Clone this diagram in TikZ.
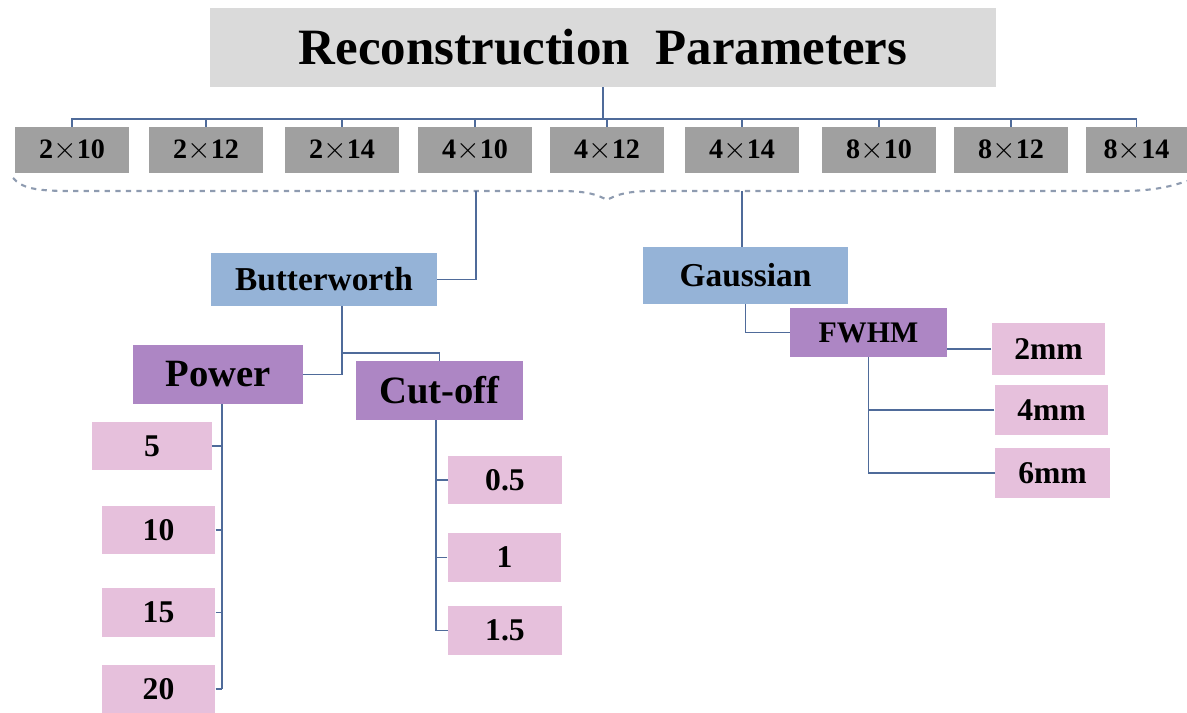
\documentclass[tikz,border=0pt]{standalone}
\usepackage{fontspec}
\setmainfont{Liberation Serif}
\usepackage{tikz}

\definecolor{titlegrey}{HTML}{DADADA}
\definecolor{sizegrey}{HTML}{A0A0A0}
\definecolor{filterblue}{HTML}{95B3D7}
\definecolor{parampurple}{HTML}{AD86C4}
\definecolor{valuepink}{HTML}{E6C0DC}
\definecolor{linkblue}{HTML}{4F6B9A}
\definecolor{bracegrey}{HTML}{8E9BB0}

\begin{document}
\begin{tikzpicture}[x=0.02cm, y=-0.02cm,
	box/.style={rectangle, inner sep=0pt, font=\bfseries},
	sizebox/.style={box, fill=sizegrey, minimum width=2.28cm, minimum height=0.92cm,
		font=\bfseries\fontsize{16}{18}\selectfont},
	filterbox/.style={box, fill=filterblue, minimum height=1.1cm,
		font=\bfseries\fontsize{19}{22}\selectfont},
	parambox/.style={box, fill=parampurple, minimum height=1.18cm,
		font=\bfseries\fontsize{22}{26}\selectfont},
	valuebox/.style={box, fill=valuepink, minimum width=2.27cm, minimum height=0.98cm,
		font=\bfseries\fontsize{18}{21}\selectfont},
	link/.style={draw=linkblue, line width=1pt},
	brace/.style={draw=bracegrey, line width=1.2pt, dashed}]
	\useasboundingbox (0,0) rectangle (1187,713);

		%title
	\node[box, fill=titlegrey, minimum width=15.72cm, minimum height=1.58cm,
		font=\bfseries\fontsize{29}{34}\selectfont] (title) at (603,47.5)
		{Reconstruction\ \ Parameters};

		%matrix sizes
	\node[sizebox] (g1) at (72,150) {2$\times$10};
	\node[sizebox] (g2) at (206,150) {2$\times$12};
	\node[sizebox] (g3) at (342,150) {2$\times$14};
	\node[sizebox] (g4) at (475,150) {4$\times$10};
	\node[sizebox] (g5) at (607,150) {4$\times$12};
	\node[sizebox] (g6) at (742,150) {4$\times$14};
	\node[sizebox] (g7) at (879,150) {8$\times$10};
	\node[sizebox] (g8) at (1011,150) {8$\times$12};
	\node[sizebox, minimum width=2.02cm] (g9) at (1136.5,150) {8$\times$14};

		%bus from title
	\coordinate (bus) at (603,119);
	\draw[link] (title.south) -- (bus);
	\draw[link] (g1.north) |- (bus) -| (g9.north);
	\draw[link] (g2.north) -- (g2.north |- bus);
	\draw[link] (g3.north) -- (g3.north |- bus);
	\draw[link] (g4.north) -- (g4.north |- bus);
	\draw[link] (g5.north) -- (g5.north |- bus);
	\draw[link] (g6.north) -- (g6.north |- bus);
	\draw[link] (g7.north) -- (g7.north |- bus);
	\draw[link] (g8.north) -- (g8.north |- bus);

		%dashed brace under the sizes
	\draw[brace] (13,178) .. controls (22,188) and (35,191) .. (70,191)
		-- (560,191) .. controls (588,191) and (598,195) .. (607,200)
		.. controls (616,195) and (626,191) .. (654,191)
		-- (1120,191) .. controls (1155,191) and (1172,186) .. (1187,181);
	\coordinate (bwtop) at (476,191);
	\coordinate (gatop) at (742,191);

		%filters
	\node[filterbox, minimum width=4.52cm, minimum height=1.06cm] (bw) at (324,279.5) {Butterworth};
	\node[filterbox, minimum width=4.1cm, minimum height=1.14cm] (ga) at (745.5,275.5) {Gaussian};
	\draw[link] (bwtop) |- (bw.east);
	\draw[link] (gatop) -- (gatop |- ga.north);

		%butterworth parameters
	\node[parambox, minimum width=3.4cm] (pw) at (218,374.5) {Power};
	\node[parambox, minimum width=3.34cm] (co) at (439.5,390.5) {Cut-off};
	\coordinate (bwjoin) at (342,353);
	\draw[link] (bw.south -| bwjoin) -- (bwjoin |- pw.east) -- (pw.east);
	\draw[link] (bwjoin) -| (co.north);

		%power values
	\coordinate (pwstem) at (222,404);
	\node[valuebox, minimum width=2.4cm] (p5) at (152,446) {5};
	\node[valuebox] (p10) at (158.5,530) {10};
	\node[valuebox] (p15) at (158.5,612.5) {15};
	\node[valuebox] (p20) at (158.5,689) {20};
	\draw[link] (pw.south -| pwstem) -- (p20.east -| pwstem);
	\draw[link] (p5.east) -- (p5.east -| pwstem);
	\draw[link] (p10.east) -- (p10.east -| pwstem);
	\draw[link] (p15.east) -- (p15.east -| pwstem);
	\draw[link] (p20.east) -- (p20.east -| pwstem);

		%cut-off values
	\coordinate (costem) at (436,420);
	\node[valuebox] (c05) at (505,480) {0.5};
	\node[valuebox] (c1) at (504.5,557.5) {1};
	\node[valuebox] (c15) at (505,630.5) {1.5};
	\draw[link] (co.south -| costem) |- (c15.west);
	\draw[link] (c05.west) -- (c05.west -| costem);
	\draw[link] (c1.west) -- (c1.west -| costem);

		%gaussian parameter
	\node[box, fill=parampurple, minimum width=3.14cm, minimum height=0.98cm,
		font=\bfseries\fontsize{17}{20}\selectfont] (fw) at (868.5,332.5) {FWHM};
	\draw[link] (ga.south) |- (fw.west);

		%fwhm values
	\node[valuebox, minimum height=1.04cm] (mm2) at (1048.5,349) {2mm};
	\node[valuebox, minimum height=1cm] (mm4) at (1051.5,410) {4mm};
	\node[valuebox, minimum width=2.3cm, minimum height=1cm] (mm6) at (1052.5,473) {6mm};
	\draw[link] (mm2.west) -- (mm2.west -| fw.east);
	\draw[link] (fw.south) |- (mm6.west);
	\draw[link] (mm4.west) -- (mm4.west -| fw.south);
\end{tikzpicture}
\end{document}
